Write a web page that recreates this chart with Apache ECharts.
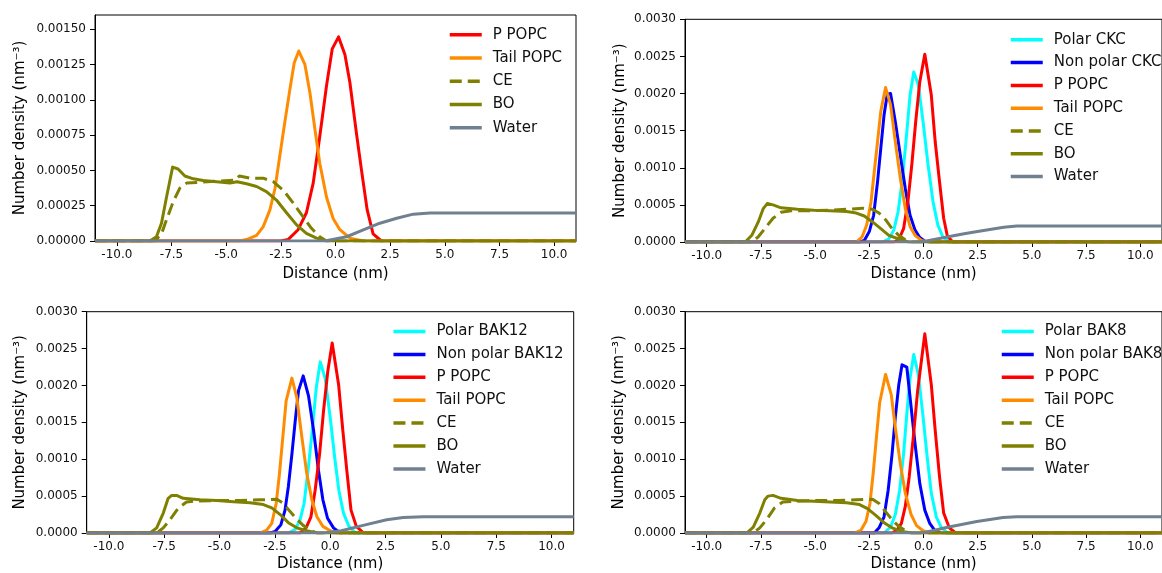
<!DOCTYPE html>
<html>
<head>
<meta charset="utf-8">
<script src="https://cdn.jsdelivr.net/npm/echarts@6/dist/echarts.min.js"></script>
<style>
  html, body { margin: 0; padding: 0; background: #fff; }
  #chart { width: 1162px; height: 573px; }
</style>
</head>
<body>
<div id="chart"></div>
<script>
// Number density profiles across the membrane, four systems.
// Each profile is a list of [distance (nm), number density (nm^-3)] points.

const xTicks = [-10, -7.5, -5, -2.5, 0, 2.5, 5, 7.5, 10];
const yTicksPOPC = [0, 0.00025, 0.0005, 0.00075, 0.001, 0.00125, 0.0015];
const yTicksPeptide = [0, 0.0005, 0.001, 0.0015, 0.002, 0.0025, 0.003];

// --- Pure bilayer with CE / BO ---
const pure_pPOPC = [[-11,0],[-2.5,0],[-2.17,0.00001],[-1.71,0.00008],[-1.33,0.0002],[-1.02,0.00041],[-0.72,0.00074],[-0.41,0.0011],[-0.15,0.00136],[0.14,0.001445],[0.43,0.00132],[0.66,0.00112],[0.96,0.00076],[1.19,0.0005],[1.45,0.00022],[1.72,0.00005],[2.1,0],[11,0]];
const pure_tailPOPC = [[-11,0],[-4.4,0],[-4.07,0.00001],[-3.61,0.00004],[-3.31,0.0001],[-3.0,0.00022],[-2.77,0.00037],[-2.55,0.0006],[-2.32,0.00084],[-2.09,0.00107],[-1.89,0.00126],[-1.68,0.001345],[-1.40,0.00125],[-1.17,0.00105],[-0.94,0.00079],[-0.72,0.00055],[-0.41,0.00031],[-0.11,0.00016],[0.2,0.00008],[0.66,0.00002],[1.27,0],[11,0]];
const pure_CE = [[-11,0],[-8.26,0],[-7.96,0.00005],[-7.73,0.00015],[-7.42,0.00028],[-7.12,0.000374],[-6.81,0.00041],[-6.36,0.000414],[-5.44,0.000424],[-4.6,0.00043],[-4.4,0.00046],[-3.92,0.000445],[-3.31,0.000445],[-2.85,0.00042],[-2.39,0.00036],[-1.94,0.00027],[-1.48,0.00017],[-1.1,0.00009],[-0.72,0.00003],[-0.41,0],[11,0]];
const pure_BO = [[-11,0],[-8.49,0],[-8.19,0.00003],[-7.96,0.000125],[-7.73,0.00031],[-7.45,0.000523],[-7.2,0.00051],[-6.89,0.00046],[-6.5,0.00044],[-6.05,0.000428],[-5.44,0.00042],[-4.83,0.00041],[-4.5,0.00042],[-4.07,0.000405],[-3.61,0.000386],[-3.16,0.00035],[-2.7,0.00029],[-2.24,0.0002],[-1.78,0.000114],[-1.33,0.000054],[-0.87,0.00002],[-0.41,0],[11,0]];
const pure_water = [[-11,0],[-0.5,0],[-0.25,0.000007],[0.51,0.00003],[1.27,0.000078],[2.03,0.000126],[2.8,0.000161],[3.56,0.00019],[4.32,0.000198],[11,0.000198]];

// --- CKC ---
const ckc_polar = [[-11,0],[-1.9,0],[-1.6,0.00004],[-1.37,0.00016],[-1.17,0.00041],[-0.99,0.00081],[-0.81,0.00135],[-0.62,0.00198],[-0.45,0.00229],[-0.24,0.00212],[-0.02,0.00162],[0.21,0.00104],[0.44,0.00054],[0.66,0.00023],[0.89,0.00007],[1.19,0],[11,0]];
const ckc_nonpolar = [[-11,0],[-2.95,0],[-2.73,0.00002],[-2.5,0.00014],[-2.3,0.00036],[-2.12,0.00081],[-1.97,0.00126],[-1.82,0.00171],[-1.67,0.00199],[-1.52,0.002],[-1.3,0.00162],[-1.07,0.00117],[-0.84,0.00072],[-0.62,0.00036],[-0.39,0.00016],[-0.17,0.00006],[0.06,0.00001],[0.36,0],[11,0]];
const ckc_pPOPC = [[-11,0],[-1.37,0],[-1.14,0.00003],[-0.92,0.00018],[-0.72,0.00054],[-0.54,0.00104],[-0.36,0.00162],[-0.17,0.00216],[0.06,0.00253],[0.36,0.00198],[0.54,0.00135],[0.74,0.00081],[0.93,0.00032],[1.1,0.00008],[1.35,0],[11,0]];
const ckc_tailPOPC = [[-11,0],[-3.1,0],[-2.83,0.00007],[-2.62,0.00023],[-2.42,0.00054],[-2.27,0.00095],[-2.12,0.00135],[-1.97,0.00176],[-1.75,0.00208],[-1.52,0.00185],[-1.3,0.00135],[-1.07,0.00086],[-0.84,0.00045],[-0.62,0.00021],[-0.39,0.00009],[-0.09,0.00002],[0.2,0],[11,0]];
const ckc_CE = [[-11,0],[-7.92,0],[-7.62,0.00007],[-7.32,0.00018],[-6.94,0.00032],[-6.57,0.0004],[-6.11,0.00042],[-5.36,0.00042],[-4.31,0.00043],[-3.55,0.00044],[-2.8,0.000455],[-2.35,0.00044],[-2.05,0.00039],[-1.75,0.0003],[-1.45,0.00018],[-1.14,0.00009],[-0.84,0.00003],[-0.54,0],[11,0]];
const ckc_BO = [[-11,0],[-8.22,0],[-7.92,0.00009],[-7.62,0.00027],[-7.39,0.00045],[-7.2,0.00052],[-6.94,0.0005],[-6.57,0.00046],[-5.81,0.00044],[-5.06,0.000427],[-4.31,0.00042],[-3.55,0.00041],[-3.1,0.00039],[-2.73,0.00035],[-2.35,0.00027],[-1.97,0.00018],[-1.6,0.00009],[-1.14,0.00004],[-0.69,0],[11,0]];
const ckc_water = [[-11,0],[-0.2,0],[0.08,0.00001],[1.14,0.00007],[1.87,0.000112],[2.49,0.00014],[3.7,0.000198],[4.3,0.000216],[11,0.000216]];

// --- BAK12 ---
const bak12_polar = [[-11,0],[-1.89,0],[-1.58,0.00005],[-1.36,0.00018],[-1.18,0.0004],[-1.0,0.00085],[-0.81,0.00139],[-0.63,0.00197],[-0.45,0.00232],[-0.23,0.0021],[0,0.00157],[0.2,0.00103],[0.39,0.00058],[0.6,0.00027],[0.83,0.0001],[1.13,0],[11,0]];
const bak12_nonpolar = [[-11,0],[-2.71,0],[-2.49,0.00002],[-2.23,0.00011],[-2.04,0.00031],[-1.89,0.00063],[-1.73,0.00107],[-1.58,0.00152],[-1.43,0.00193],[-1.22,0.00213],[-0.98,0.00186],[-0.75,0.00139],[-0.53,0.00085],[-0.33,0.00045],[-0.12,0.0002],[0.15,0.00007],[0.45,0],[11,0]];
const bak12_pPOPC = [[-11,0],[-1.36,0],[-1.09,0.00007],[-0.87,0.00022],[-0.68,0.00058],[-0.48,0.00107],[-0.3,0.00166],[-0.11,0.00219],[0.09,0.002575],[0.38,0.00201],[0.57,0.00139],[0.75,0.00085],[0.94,0.00031],[1.18,0.00009],[1.51,0],[11,0]];
const bak12_tailPOPC = [[-11,0],[-3.17,0],[-2.87,0.00004],[-2.64,0.00013],[-2.44,0.0004],[-2.29,0.00081],[-2.14,0.0013],[-1.99,0.00179],[-1.73,0.0021],[-1.51,0.00184],[-1.28,0.0013],[-1.06,0.00081],[-0.83,0.00045],[-0.6,0.00022],[-0.33,0.00009],[0,0.00003],[0.3,0],[11,0]];
const bak12_CE = [[-11,0],[-7.84,0],[-7.54,0.00007],[-7.24,0.00018],[-6.86,0.00034],[-6.49,0.00042],[-6.03,0.000434],[-5.13,0.00044],[-4.07,0.00044],[-3.17,0.00045],[-2.41,0.000457],[-2.11,0.0004],[-1.81,0.00029],[-1.51,0.00019],[-1.21,0.0001],[-0.9,0.00004],[-0.6,0],[11,0]];
const bak12_BO = [[-11,0],[-8.14,0],[-7.84,0.00007],[-7.54,0.00027],[-7.32,0.00047],[-7.16,0.00051],[-6.94,0.00051],[-6.64,0.00047],[-5.88,0.00045],[-5.13,0.00044],[-4.37,0.000425],[-3.62,0.00041],[-3.02,0.000385],[-2.64,0.00034],[-2.26,0.00025],[-1.89,0.00014],[-1.51,0.00007],[-1.06,0.00003],[-0.6,0],[11,0]];
const bak12_water = [[-11,0],[-0.3,0],[0.5,0.00003],[1.49,0.000103],[2.55,0.000179],[3.3,0.00021],[4.2,0.00022],[11,0.00022]];

// --- BAK8 ---
const bak8_polar = [[-11,0],[-1.82,0],[-1.52,0.00008],[-1.3,0.00025],[-1.1,0.00058],[-0.92,0.00107],[-0.77,0.00161],[-0.62,0.0021],[-0.45,0.00242],[-0.24,0.00215],[-0.05,0.00166],[0.17,0.00103],[0.36,0.00054],[0.59,0.00022],[0.81,0.00008],[1.11,0],[11,0]];
const bak8_nonpolar = [[-11,0],[-2.27,0],[-2.05,0.00007],[-1.82,0.00022],[-1.63,0.00058],[-1.45,0.00107],[-1.3,0.00157],[-1.14,0.00201],[-0.99,0.00228],[-0.77,0.00225],[-0.62,0.00184],[-0.39,0.00121],[-0.17,0.00067],[0.06,0.00031],[0.29,0.00013],[0.51,0.00004],[0.81,0],[11,0]];
const bak8_pPOPC = [[-11,0],[-1.45,0],[-1.22,0.00004],[-1.02,0.00013],[-0.84,0.00036],[-0.66,0.00076],[-0.47,0.0013],[-0.27,0.00193],[-0.12,0.00228],[0.06,0.0027],[0.36,0.00201],[0.54,0.00139],[0.74,0.00076],[0.93,0.00027],[1.19,0.00007],[1.49,0],[11,0]];
const bak8_tailPOPC = [[-11,0],[-3.18,0],[-2.88,0.00004],[-2.65,0.00016],[-2.47,0.0004],[-2.32,0.00081],[-2.17,0.0013],[-2.02,0.00177],[-1.75,0.00215],[-1.49,0.00188],[-1.3,0.00143],[-1.07,0.00094],[-0.84,0.00054],[-0.57,0.00025],[-0.32,0.0001],[-0.02,0.00003],[0.29,0],[11,0]];
const bak8_CE = [[-11,0],[-7.85,0],[-7.55,0.00007],[-7.24,0.00018],[-6.87,0.00034],[-6.49,0.00042],[-5.96,0.00043],[-5.06,0.00044],[-4.01,0.00044],[-3.1,0.00045],[-2.35,0.000457],[-2.05,0.0004],[-1.75,0.00029],[-1.45,0.00018],[-1.14,0.00009],[-0.84,0.00003],[-0.54,0],[11,0]];
const bak8_BO = [[-11,0],[-8.15,0],[-7.85,0.00008],[-7.55,0.00027],[-7.32,0.00045],[-7.17,0.0005],[-6.94,0.00051],[-6.57,0.00047],[-5.81,0.00044],[-5.06,0.00043],[-4.31,0.00042],[-3.55,0.00041],[-2.95,0.000385],[-2.58,0.00033],[-2.2,0.00024],[-1.82,0.00014],[-1.45,0.00007],[-0.99,0.00002],[-0.54,0],[11,0]];
const bak8_water = [[-11,0],[-0.2,0],[0.1,0.00001],[1.11,0.000077],[2.46,0.000157],[3.67,0.00021],[4.3,0.00022],[11,0.00022]];

// ---------- drawing ----------
const FONT = 'DejaVu Sans';
const COLOR = {
  polar: '#00ffff', nonpolar: '#0000ff', p: '#ff0000', tail: '#ff8c00',
  ce: '#808000', bo: '#808000', water: '#708090'
};
const CE_DASH = [12, 6];

const panels = [
  {
    grid: { left: 95, top: 15, width: 481, height: 226 },
    yMax: 0.0016, yTicks: yTicksPOPC, yDigits: 5, yNameGap: 67, xNameGap: 26,
    legend: { left: 448, top: 27.3, itemGap: 8.25 },
    lines: [
      ['P POPC', pure_pPOPC, 'p'], ['Tail POPC', pure_tailPOPC, 'tail'],
      ['CE', pure_CE, 'ce'], ['BO', pure_BO, 'bo'], ['Water', pure_water, 'water']
    ]
  },
  {
    grid: { left: 685, top: 19.3, width: 487, height: 222.7 },
    yMax: 0.003, yTicks: yTicksPeptide, yDigits: 4, yNameGap: 57, xNameGap: 25,
    legend: { left: 1009, top: 32.3, itemGap: 7.8 },
    lines: [
      ['Polar CKC', ckc_polar, 'polar'], ['Non polar CKC', ckc_nonpolar, 'nonpolar'],
      ['P POPC', ckc_pPOPC, 'p'], ['Tail POPC', ckc_tailPOPC, 'tail'],
      ['CE', ckc_CE, 'ce'], ['BO', ckc_BO, 'bo'], ['Water', ckc_water, 'water']
    ]
  },
  {
    grid: { left: 86.7, top: 311.7, width: 487, height: 223.3 },
    yMax: 0.003, yTicks: yTicksPeptide, yDigits: 4, yNameGap: 59, xNameGap: 24,
    legend: { left: 391.7, top: 324, itemGap: 7.9 },
    lines: [
      ['Polar BAK12', bak12_polar, 'polar'], ['Non polar BAK12', bak12_nonpolar, 'nonpolar'],
      ['P POPC', bak12_pPOPC, 'p'], ['Tail POPC', bak12_tailPOPC, 'tail'],
      ['CE', bak12_CE, 'ce'], ['BO', bak12_BO, 'bo'], ['Water', bak12_water, 'water']
    ]
  },
  {
    grid: { left: 685, top: 311.7, width: 487, height: 223.3 },
    yMax: 0.003, yTicks: yTicksPeptide, yDigits: 4, yNameGap: 58, xNameGap: 24,
    legend: { left: 1000, top: 324, itemGap: 7.9 },
    lines: [
      ['Polar BAK8', bak8_polar, 'polar'], ['Non polar BAK8', bak8_nonpolar, 'nonpolar'],
      ['P POPC', bak8_pPOPC, 'p'], ['Tail POPC', bak8_tailPOPC, 'tail'],
      ['CE', bak8_CE, 'ce'], ['BO', bak8_BO, 'bo'], ['Water', bak8_water, 'water']
    ]
  }
];

const option = {
  animation: false,
  backgroundColor: '#ffffff',
  textStyle: { fontFamily: FONT },
  grid: [], xAxis: [], yAxis: [], legend: [], series: []
};

panels.forEach((pn, i) => {
  option.grid.push(Object.assign({
    show: true, borderColor: '#000', borderWidth: 1, backgroundColor: 'transparent',
    containLabel: false
  }, pn.grid));

  option.xAxis.push({
    gridIndex: i, type: 'value', min: -11, max: 11,
    name: 'Distance (nm)', nameLocation: 'middle', nameGap: pn.xNameGap,
    nameTextStyle: { fontSize: 15, color: '#000', fontFamily: FONT },
    axisLine: { show: true, onZero: false, lineStyle: { color: '#000', width: 1 } },
    axisTick: { show: true, inside: false, length: 5, customValues: xTicks,
                lineStyle: { color: '#000', width: 1 } },
    axisLabel: { customValues: xTicks, formatter: v => v.toFixed(1),
                 fontSize: 12, color: '#111', margin: 8, fontFamily: FONT },
    splitLine: { show: false }
  });

  option.yAxis.push({
    gridIndex: i, type: 'value', min: 0, max: pn.yMax,
    name: 'Number density (nm\u207B\u00B3)', nameLocation: 'middle', nameGap: pn.yNameGap,
    nameTextStyle: { fontSize: 15, color: '#000', fontFamily: FONT },
    axisLine: { show: true, onZero: false, lineStyle: { color: '#000', width: 1 } },
    axisTick: { show: true, inside: false, length: 5, customValues: pn.yTicks,
                lineStyle: { color: '#000', width: 1 } },
    axisLabel: { customValues: pn.yTicks, formatter: v => v.toFixed(pn.yDigits),
                 fontSize: 12, color: '#111', margin: 9, fontFamily: FONT },
    splitLine: { show: false }
  });

  option.legend.push({
    orient: 'vertical', left: pn.legend.left, top: pn.legend.top,
    itemGap: pn.legend.itemGap, itemWidth: 32, itemHeight: 14, padding: 0,
    selectedMode: false,
    // line-only keys: hide the marker drawn in the middle of each key
    itemStyle: { opacity: 0 },
    lineStyle: { opacity: 1, width: 3.5 },
    textStyle: { fontSize: 15, color: '#111', fontFamily: FONT, lineHeight: 14,
                 padding: [0, 0, 0, 6] },
    data: pn.lines.map(l => l[0])
  });

  pn.lines.forEach(([name, data, key]) => {
    option.series.push({
      type: 'line', name, data, xAxisIndex: i, yAxisIndex: i,
      symbol: 'none', showSymbol: false, clip: true, silent: true,
      itemStyle: { color: COLOR[key] },
      lineStyle: { color: COLOR[key], width: 3, type: key === 'ce' ? CE_DASH : 'solid',
                   join: 'round' }
    });
  });
});

const chart = echarts.init(document.getElementById('chart'), null, { renderer: 'canvas' });
chart.setOption(option);
</script>
</body>
</html>
